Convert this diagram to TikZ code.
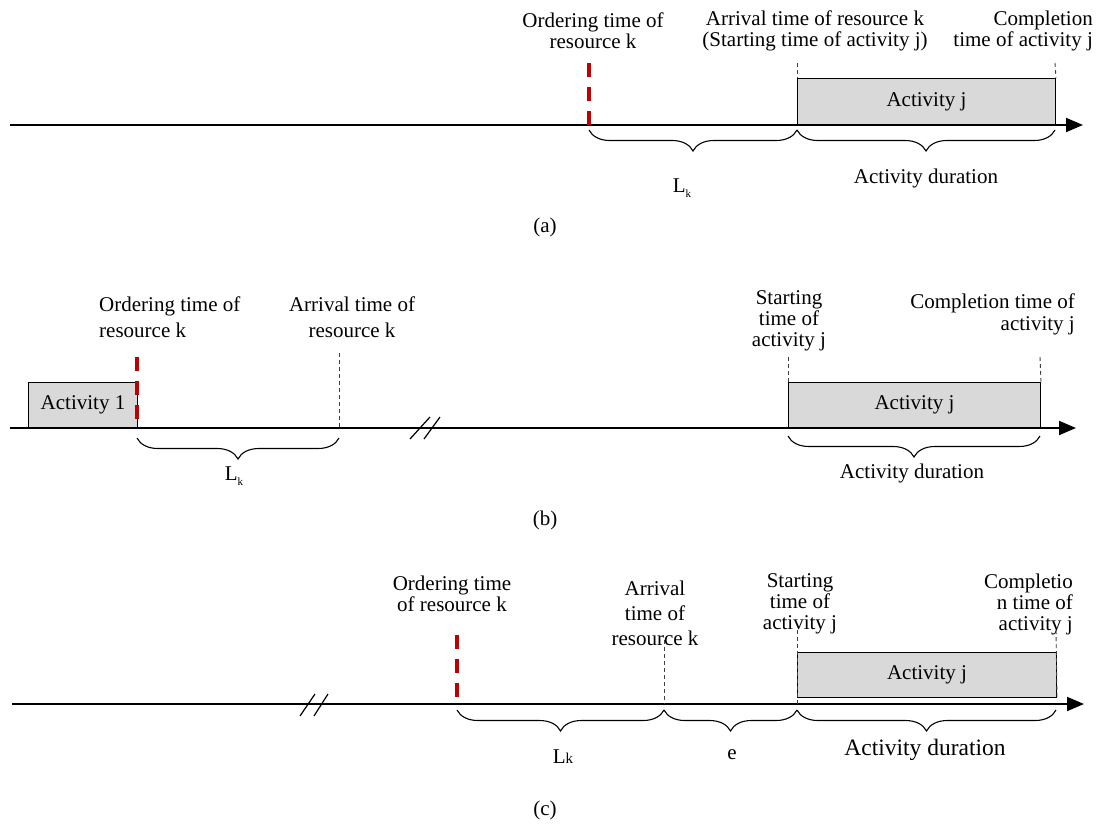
\documentclass[tikz,border=0pt]{standalone}
\usepackage{fontspec}
\setmainfont{Liberation Serif}
\usetikzlibrary{arrows.meta,decorations.pathreplacing}
\definecolor{boxgray}{HTML}{D9D9D9}
\definecolor{ordred}{HTML}{C00000}
\begin{document}
\begin{tikzpicture}[x=1pt,y=-1pt,
  lbl/.style={font=\fontsize{21}{21}\selectfont, inner sep=0pt, align=center},
  lblw/.style={lbl, align=left, anchor=west},
  lble/.style={lbl, align=right, anchor=east},
  axis/.style={line width=2pt, -{Triangle[length=17pt,width=14pt]}},
  actbox/.style={draw=black, line width=1pt, fill=boxgray, anchor=south west, inner sep=0pt,
    font=\fontsize{21}{21}\selectfont},
  redmark/.style={ordred, line width=4pt, dash pattern=on 14pt off 10pt},
  tick/.style={black!75, line width=0.9pt, dash pattern=on 4pt off 3pt},
  brc/.style={line width=1.1pt, decorate, decoration={brace, mirror, amplitude=21pt, raise=#1}},
  brc/.default=6pt,
  brk/.style={line width=1.2pt}
]
\useasboundingbox (0,0) rectangle (1098,825);

% ================= (a) =================
\coordinate (a0) at (10,125);
\coordinate (a1) at (1083,125);
\coordinate (aord) at (589,125);
\coordinate (aarr) at (797,125);
\coordinate (acmp) at (1055,125);
\coordinate (aordT) at (589,63);
\coordinate (aarrT) at (797,63);
\coordinate (acmpT) at (1055,63);
\node[actbox, minimum width=258pt, minimum height=46pt] (aj) at (aarr) {Activity j};
\draw[axis] (a0) -- (a1);
\draw[redmark] (aordT) -- (aord);
\draw[tick] (aarrT) -- (aj.north west);
\draw[tick] (acmpT) -- (aj.north east);
\draw[brc=5pt] (aord) -- (aarr);
\draw[brc=5pt] (aarr) -- (acmp);
\node[lbl] (aordL) at (593,31) {Ordering time of\\resource k};
\node[lbl] (aarrL) at (815,31) {Arrival time of resource k\\(Starting time of activity j)};
\node[lble] (acmpL) at (1093,31) {Completion\\time of activity j};
\node[lbl] (aLk) at (682,188) {L\raisebox{-5pt}{\fontsize{11}{11}\selectfont k}};
\node[lbl] (adur) at (926,178) {Activity duration};
\node[lbl] (acap) at (545,227) {(a)};

% ================= (b) =================
\coordinate (b0) at (10,428);
\coordinate (b1) at (1076,428);
\coordinate (bord) at (137,428);
\coordinate (barr) at (339,428);
\coordinate (bst) at (788,428);
\coordinate (bcmp) at (1040,428);
\coordinate (bordT) at (137,357);
\coordinate (barrT) at (339,353);
\coordinate (bstT) at (788,357);
\coordinate (bcmpT) at (1040,357);
\node[actbox, minimum width=109pt, minimum height=45pt] (b1box) at (28,428) {Activity 1};
\node[actbox, minimum width=252pt, minimum height=45pt] (bj) at (bst) {Activity j};
\draw[axis] (b0) -- (b1);
\draw[redmark] (bordT) -- (bord);
\draw[tick] (barrT) -- (barr);
\draw[tick] (bstT) -- (bj.north west);
\draw[tick] (bcmpT) -- (bj.north east);
\draw[brk] (410,439) -- (430,417) (424,439) -- (440,417);
\draw[brc=10pt] (bord) -- (barr);
\draw[brc=8pt] (bst) -- (bcmp);
\node[lblw, font=\fontsize{21}{26}\selectfont] (bordL) at (99,317) {Ordering time of\\resource k};
\node[lbl, font=\fontsize{21}{26}\selectfont] (barrL) at (352,317) {Arrival time of\\resource k};
\node[lbl] (bstL) at (789,321) {Starting\\time of\\activity j};
\node[lble, font=\fontsize{21}{22}\selectfont] (bcmpL) at (1075,314) {Completion time of\\activity j};
\node[lbl] (bLk) at (234,476) {L\raisebox{-5pt}{\fontsize{11}{11}\selectfont k}};
\node[lbl] (bdur) at (912,473) {Activity duration};
\node[lbl] (bcap) at (545,520) {(b)};

% ================= (c) =================
\coordinate (c0) at (12,704);
\coordinate (c1) at (1084,704);
\coordinate (cord) at (457,704);
\coordinate (carr) at (664,704);
\coordinate (cst) at (797,704);
\coordinate (ccmp) at (1056,704);
\coordinate (cordT) at (457,635);
\coordinate (carrT) at (664,640);
\coordinate (cstT) at (797,630);
\coordinate (ccmpT) at (1056,630);
\node[actbox, minimum width=259pt, minimum height=45pt] (cj) at (797,698) {Activity j};
\draw[axis] (c0) -- (c1);
\draw[redmark] (cordT) -- (cord);
\draw[tick] (carrT) -- (carr);
\draw[tick] (cstT) -- (cst);
\draw[tick] (ccmpT) -- (cj.south east);
\draw[brk] (300,716) -- (315,694) (314,716) -- (328,694);
\draw[brc] (cord) -- (carr);
\draw[brc] (carr) -- (cst);
\draw[brc] (cst) -- (ccmp);
\node[lbl] (cordL) at (452,594) {Ordering time\\of resource k};
\node[lbl, font=\fontsize{21}{25}\selectfont] (carrL) at (655,613) {Arrival\\time of\\resource k};
\node[lbl] (cstL) at (800,604) {Starting\\time of\\activity j};
\node[lble] (ccmpL) at (1073,604) {Completio\\n time of\\activity j};
\node[lbl] (cLk) at (563,757) {L{\fontsize{15}{15}\selectfont k}};
\node[lbl] (ce) at (732,755) {e};
\node[lbl, font=\fontsize{23.5}{24}\selectfont] (cdur) at (925,750) {Activity duration};
\node[lbl] (ccap) at (545,810) {(c)};
\end{tikzpicture}
\end{document}
